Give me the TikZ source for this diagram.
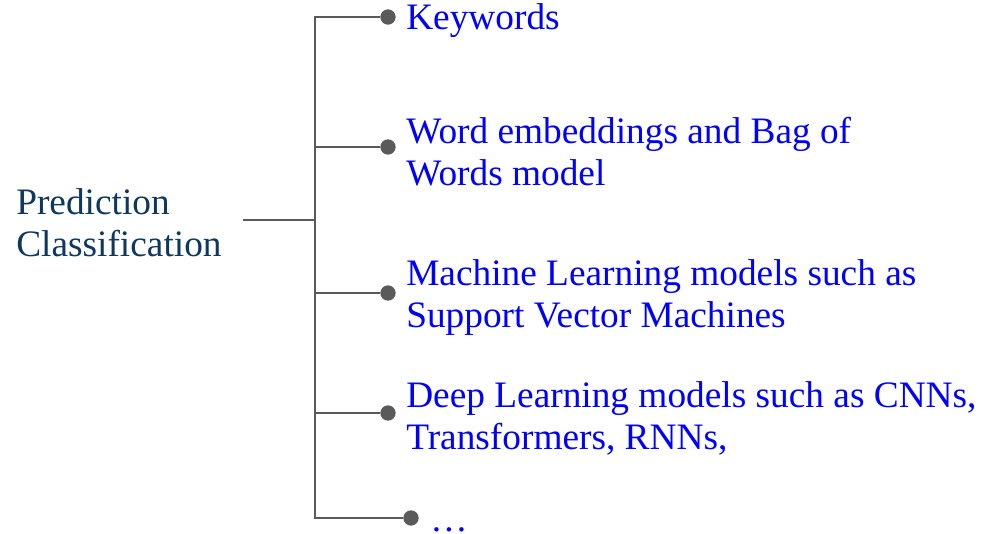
\documentclass[tikz,border=0pt]{standalone}
\usepackage{fontspec}
\setmainfont{Liberation Serif}
\usetikzlibrary{positioning}

\definecolor{itemblue}{RGB}{0,0,255}
\definecolor{rootnavy}{RGB}{14,56,94}
\definecolor{treegray}{RGB}{90,90,90}

\tikzset{
  branch/.style={draw=treegray, line width=1.5},
  dot/.style={circle, fill=treegray, inner sep=0pt, minimum size=11.5pt},
  item/.style={anchor=west, inner sep=0.75pt, align=left, text=itemblue,
    font=\fontsize{28}{31.5}\selectfont},
}

\begin{document}
\begin{tikzpicture}[x=0.75pt,y=0.75pt,yscale=-1,xscale=1]
\useasboundingbox (0,0) rectangle (981,534);

% root
\node (pred) [anchor=west, inner sep=0.75pt, align=left, text=rootnavy,
  font=\fontsize{28}{31.5}\selectfont] at (15,223) {Prediction\\Classification};
\coordinate (rt) at (243,220);
\coordinate (jn) at (315,220);

% dots
\node (d1) [dot] at (388,17) {};
\node (d2) [dot] at (388,147) {};
\node (d3) [dot] at (388,293) {};
\node (d4) [dot] at (388,413) {};
\node (d5) [dot] at (411,518) {};

% texts
\node (t1) [item] at (405,21) {Keywords};
\node (t2) [item] at (405,152) {Word embeddings and Bag of\\Words model};
\node (t3) [item] at (405,298) {Machine Learning models such as\\Support Vector Machines};
\node (t4) [item] at (405,418) {Deep Learning models such as CNNs,\\Transformers, RNNs,};
\node (t5) [item, anchor=base west, inner sep=0pt] at (430,531) {\ldots};

% connectors
\draw [branch] (rt) -- (jn);
\foreach \i in {1,...,5}
  \draw [branch] (jn) |- (d\i);

\end{tikzpicture}
\end{document}
